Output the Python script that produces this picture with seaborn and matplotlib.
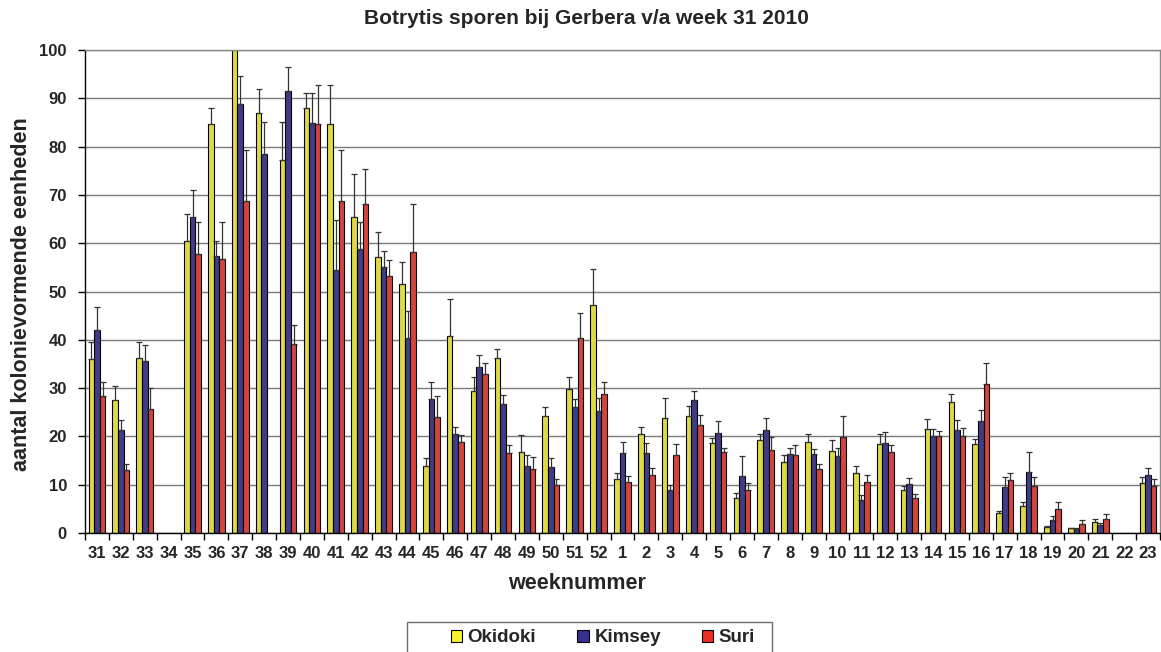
import numpy as np
import pandas as pd
import matplotlib
matplotlib.use("Agg")
import matplotlib.pyplot as plt
from matplotlib.patches import Patch, Rectangle
import seaborn as sns

nan = np.nan

weeks = [str(w) for w in range(31, 53)] + [str(w) for w in range(1, 24)]

okidoki = [36.0, 27.5, 36.2, nan, 60.5, 84.7, 100.0, 87.0, 77.3, 87.9, 84.6, 65.4,
           57.2, 51.6, 13.9, 40.7, 29.5, 36.2, 16.8, 24.2, 29.8, 47.3,
           11.2, 20.4, 23.8, 24.2, 18.6, 7.2, 19.3, 14.8, 18.8, 17.0, 12.4, 18.4,
           8.8, 21.5, 27.2, 18.4, 4.1, 5.5, 1.2, 1.0, 2.3, nan, 10.3]
okidoki_err = [3.5, 3.0, 3.4, nan, 5.6, 3.2, nan, 4.9, 7.7, 3.2, 8.2, 8.9,
               5.1, 4.5, 1.7, 7.7, 2.9, 1.8, 3.4, 1.8, 2.6, 7.4,
               1.2, 1.5, 4.1, 2.0, 1.0, 1.0, 1.3, 1.3, 1.6, 2.3, 1.4, 2.0,
               1.0, 2.0, 1.6, 1.0, 0.5, 1.0, 0.3, 0.1, 0.5, nan, 1.2]

kimsey = [42.0, 21.3, 35.7, nan, 65.5, 57.3, 88.8, 78.5, 91.5, 84.8, 54.5, 58.8,
          55.0, 40.3, 27.8, 20.4, 34.4, 26.8, 13.9, 13.7, 26.1, 25.3,
          16.5, 16.5, 8.9, 27.5, 20.8, 11.8, 21.3, 16.4, 16.3, 15.9, 6.8, 18.6,
          10.1, 20.0, 21.3, 23.1, 9.5, 12.6, 2.6, 0.9, 1.7, nan, 12.1]
kimsey_err = [4.7, 2.0, 3.2, nan, 5.6, 3.1, 5.8, 6.5, 5.0, 6.4, 10.2, 5.5,
              3.3, 5.7, 3.4, 1.6, 2.5, 1.8, 2.3, 1.8, 1.6, 2.6,
              2.4, 2.2, 1.1, 1.9, 2.3, 4.1, 2.6, 1.1, 1.0, 1.8, 1.1, 2.4,
              1.2, 1.6, 2.0, 2.4, 2.0, 4.2, 1.0, 0.1, 0.3, nan, 1.3]

suri = [28.3, 13.0, 25.6, nan, 57.8, 56.8, 68.7, nan, 39.1, 84.6, 68.7, 68.1,
        53.3, 58.1, 24.1, 18.8, 32.9, 16.6, 13.2, 10.0, 40.3, 28.8,
        10.6, 12.1, 16.1, 22.4, 16.8, 8.9, 17.1, 16.1, 13.3, 19.9, 10.6, 16.8,
        7.2, 20.0, 20.0, 30.8, 11.0, 9.7, 5.0, 1.9, 3.0, nan, 9.8]
suri_err = [2.9, 1.3, 4.4, nan, 6.5, 7.5, 10.5, nan, 3.9, 8.2, 10.6, 7.2,
            3.2, 10.1, 4.3, 1.4, 2.4, 1.7, 2.6, 1.1, 5.2, 2.5,
            1.3, 1.3, 2.3, 2.0, 0.9, 1.5, 2.8, 2.2, 1.0, 4.3, 1.5, 1.4,
            0.9, 1.2, 1.7, 4.5, 1.4, 1.8, 1.5, 0.7, 0.9, nan, 1.3]

cultivars = ["Okidoki", "Kimsey", "Suri"]
colors = ["#F8F22A", "#363092", "#EE2B24"]

series = {"Okidoki": (okidoki, okidoki_err),
          "Kimsey": (kimsey, kimsey_err),
          "Suri": (suri, suri_err)}

rows = []
for name in cultivars:
    vals, errs = series[name]
    for w, v, e in zip(weeks, vals, errs):
        rows.append({"week": w, "ras": name, "value": v, "err": e})
df = pd.DataFrame(rows)

sns.set_style("white")
plt.rcParams["font.family"] = ["Liberation Sans", "DejaVu Sans"]
plt.rcParams["font.weight"] = "bold"

W, H = 1161, 652
fig = plt.figure(figsize=(W / 100, H / 100), dpi=100)
ax = fig.add_axes([85 / W, 1 - 533 / H, 1075 / W, 483 / H])

group_width = 0.7
sns.barplot(data=df.dropna(subset=["value"]), x="week", y="value", hue="ras",
            order=weeks, hue_order=cultivars, palette=colors,
            width=group_width, edgecolor="black", linewidth=0.8,
            errorbar=None, legend=False, ax=ax, zorder=2)

# upper error bars, one per bar, centred on the dodged bar positions
bar_w = group_width / len(cultivars)
for j, name in enumerate(cultivars):
    vals, errs = series[name]
    xs = np.arange(len(weeks)) + (j - 1) * bar_w
    v = np.array(vals, dtype=float)
    e = np.array(errs, dtype=float)
    ok = ~np.isnan(v) & ~np.isnan(e)
    ax.errorbar(xs[ok], v[ok], yerr=[np.zeros(ok.sum()), e[ok]], fmt="none",
                ecolor="#333333", elinewidth=0.9, capsize=2.2, capthick=0.9,
                zorder=3)

ax.set_ylim(0, 100)
ax.set_xlim(-0.5, len(weeks) - 0.5)
ax.set_yticks(np.arange(0, 101, 10))
ax.yaxis.grid(True, color="#7a7a7a", linewidth=1.0)
ax.set_axisbelow(True)

ax.tick_params(axis="y", which="major", length=5, width=1, color="black",
               labelsize=12, pad=8, left=True)
ax.tick_params(axis="x", which="major", length=0, labelsize=12, pad=9)
ax.set_xticks(np.arange(len(weeks) + 1) - 0.5, minor=True)
ax.tick_params(axis="x", which="minor", length=5, width=1, color="black",
               bottom=True)
for lab in ax.get_xticklabels() + ax.get_yticklabels():
    lab.set_fontweight("bold")

for side in ["left", "bottom"]:
    ax.spines[side].set_color("black")
    ax.spines[side].set_linewidth(1.0)
for side in ["top", "right"]:
    ax.spines[side].set_color("#8a8a8a")
    ax.spines[side].set_linewidth(1.0)

ax.set_xlabel("weeknummer", fontsize=15.5, fontweight="bold")
ax.xaxis.set_label_coords((577 - 85) / 1075, -0.082)
ax.set_ylabel("")
fig.text(22 / W, 1 - 294 / H, "aantal kolonievormende eenheden", rotation=90,
         ha="center", va="center", fontsize=15.5, fontweight="bold")
fig.text(0.505, 1 - 19 / H, "Botrytis sporen bij Gerbera v/a week 31 2010",
         ha="center", va="center", fontsize=15, fontweight="bold")

# legend box along the bottom edge
fig.patches.append(Rectangle((407 / W, 1 - 656 / H), 365 / W, 34 / H,
                             transform=fig.transFigure, facecolor="white",
                             edgecolor="#6e6e6e", linewidth=1.0))
handles = [Patch(facecolor=c, edgecolor="black", linewidth=0.8) for c in colors]
leg = fig.legend(handles, cultivars, loc="center", bbox_to_anchor=(603 / W, 1 - 638 / H),
                 ncol=3, frameon=False,
                 handlelength=0.6, handleheight=0.6, handletextpad=0.3,
                 columnspacing=2.2, borderpad=0.2,
                 prop={"weight": "bold", "size": 13.5})

fig.savefig("out.png", dpi=100)
